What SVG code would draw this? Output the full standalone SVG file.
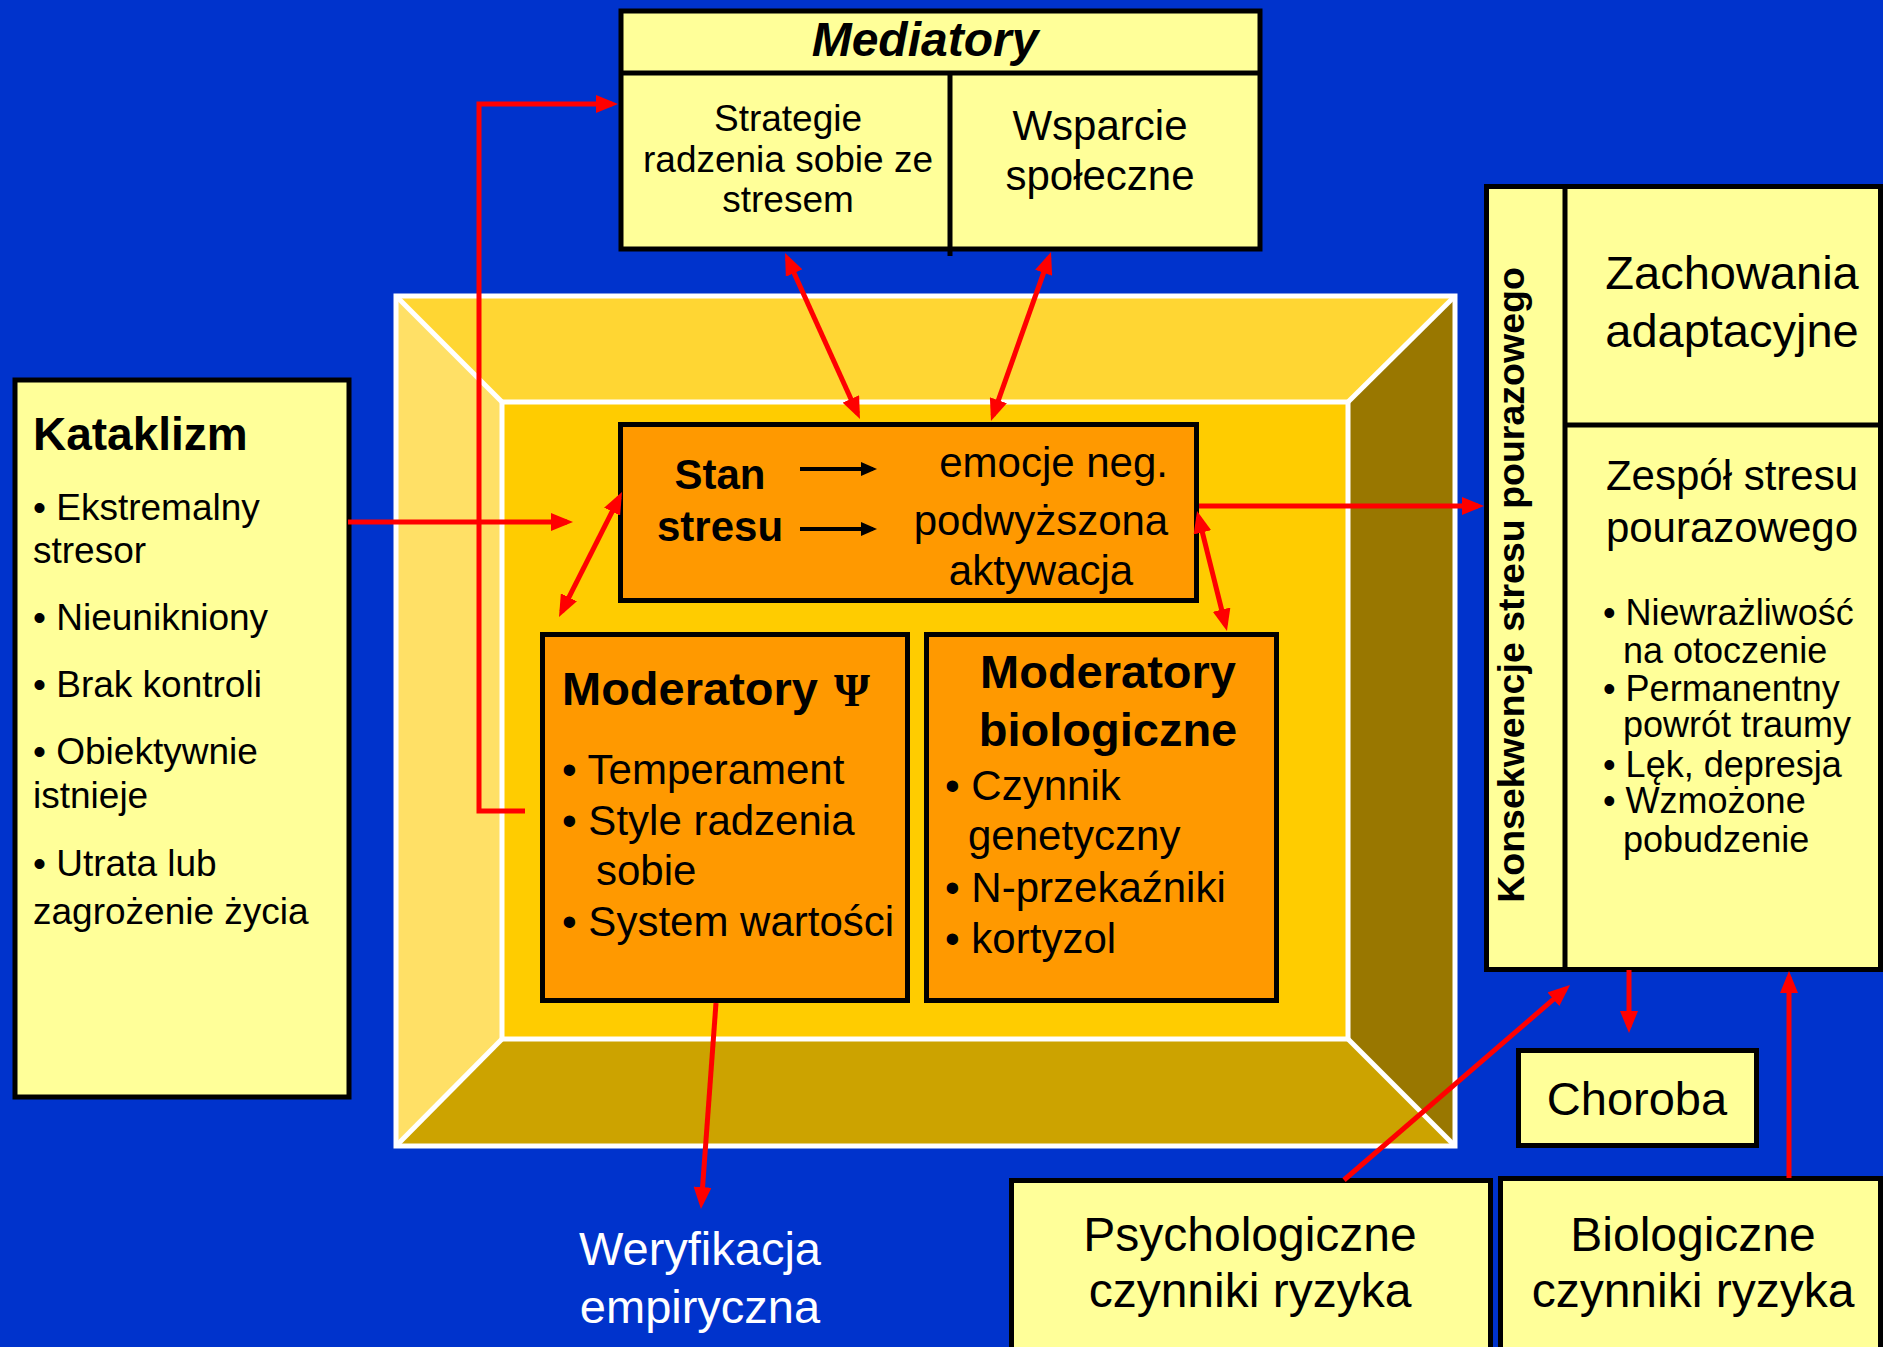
<svg xmlns="http://www.w3.org/2000/svg" width="1883" height="1347" viewBox="0 0 1883 1347">
<defs>
<style>
text{font-family:"Liberation Sans",Arial,sans-serif;fill:#000}
.box{fill:#FFFF99;stroke:#000;stroke-width:5}
.obox{fill:#FF9900;stroke:#000;stroke-width:5}
.div{stroke:#000;stroke-width:5;fill:none}
.wl{stroke:#fff;stroke-width:5;fill:none}
.red{stroke:#FF0000;stroke-width:5;fill:none}
.b{font-weight:bold}
.m{text-anchor:middle}
.f37{font-size:37px}
.f42{font-size:42px}
.f47{font-size:47px}
.f48{font-size:48px}
</style>
<marker id="ah" viewBox="0 0 22 18" refX="16" refY="9" markerWidth="22" markerHeight="18" markerUnits="userSpaceOnUse" orient="auto-start-reverse">
<path d="M0,0 L22,9 L0,18 z" fill="#FF0000"/>
</marker>
<marker id="bh" viewBox="0 0 16 14" refX="12" refY="7" markerWidth="16" markerHeight="14" markerUnits="userSpaceOnUse" orient="auto">
<path d="M0,0 L16,7 L0,14 z" fill="#000"/>
</marker>
</defs>
<rect width="1883" height="1347" fill="#0033CC"/>

<g id="frame">
<polygon points="396,296 1455,296 1348,402 502,402" fill="#FFD633"/>
<polygon points="396,296 502,402 502,1039 396,1146" fill="#FFE066"/>
<polygon points="1455,296 1455,1146 1348,1039 1348,402" fill="#997700"/>
<polygon points="396,1146 1455,1146 1348,1039 502,1039" fill="#CCA300"/>
<rect x="502" y="402" width="846" height="637" fill="#FFCC00"/>
<rect x="396" y="296" width="1059" height="850" class="wl" stroke-width="6"/>
<rect x="502" y="402" width="846" height="637" class="wl"/>
<line x1="396" y1="296" x2="502" y2="402" class="wl"/>
<line x1="1455" y1="296" x2="1348" y2="402" class="wl"/>
<line x1="396" y1="1146" x2="502" y2="1039" class="wl"/>
<line x1="1455" y1="1146" x2="1348" y2="1039" class="wl"/>
</g>

<g id="mediatory">
<rect x="621" y="11" width="639" height="238" class="box"/>
<line x1="621" y1="73" x2="1260" y2="73" class="div"/>
<line x1="950" y1="73" x2="950" y2="256" class="div"/>
<text x="925" y="56" class="m b" font-size="48" font-style="italic">Mediatory</text>
<text class="m" font-size="37"><tspan x="788" y="131">Strategie</tspan><tspan x="788" y="172">radzenia sobie ze</tspan><tspan x="788" y="212">stresem</tspan></text>
<text class="m f42"><tspan x="1100" y="140">Wsparcie</tspan><tspan x="1100" y="190">społeczne</tspan></text>
</g>

<g id="stan">
<rect x="620.5" y="424.5" width="576" height="176" class="obox"/>
<text class="m b f42"><tspan x="720" y="489">Stan</tspan><tspan x="720" y="541">stresu</tspan></text>
<line x1="800" y1="469" x2="873" y2="469" stroke="#000" stroke-width="4" marker-end="url(#bh)"/>
<line x1="800" y1="529" x2="873" y2="529" stroke="#000" stroke-width="4" marker-end="url(#bh)"/>
<text x="1168" y="477" class="f42" text-anchor="end">emocje neg.</text>
<text class="m f42"><tspan x="1041" y="535">podwyższona</tspan><tspan x="1041" y="585">aktywacja</tspan></text>
</g>

<g id="moderatory-psi">
<rect x="542.5" y="634.5" width="365" height="366" class="obox"/>
<text x="562" y="705" class="b f47">Moderatory</text>
<text x="834" y="706" font-size="46" font-weight="bold" style="font-family:'Liberation Serif','DejaVu Serif',serif">Ψ</text>
<text class="f42"><tspan x="562" y="784">• Temperament</tspan><tspan x="562" y="835">• Style radzenia</tspan><tspan x="596" y="885">sobie</tspan><tspan x="562" y="936">• System wartości</tspan></text>
</g>

<g id="moderatory-bio">
<rect x="926.5" y="634.5" width="350" height="366" class="obox"/>
<text class="m b f47"><tspan x="1108" y="688">Moderatory</tspan><tspan x="1108" y="746">biologiczne</tspan></text>
<text class="f42"><tspan x="945" y="800">• Czynnik</tspan><tspan x="968" y="850">genetyczny</tspan><tspan x="945" y="902">• N-przekaźniki</tspan><tspan x="945" y="953">• kortyzol</tspan></text>
</g>

<g id="kataklizm">
<rect x="15" y="380" width="334" height="717" class="box"/>
<text x="33" y="450" class="b" font-size="46">Kataklizm</text>
<text class="f37"><tspan x="33" y="520">• Ekstremalny</tspan><tspan x="33" y="563">stresor</tspan><tspan x="33" y="630">• Nieunikniony</tspan><tspan x="33" y="697">• Brak kontroli</tspan><tspan x="33" y="764">• Obiektywnie</tspan><tspan x="33" y="808">istnieje</tspan><tspan x="33" y="876">• Utrata lub</tspan><tspan x="33" y="924">zagrożenie życia</tspan></text>
</g>

<g id="konsekwencje">
<rect x="1486.5" y="186.5" width="394" height="783" class="box"/>
<line x1="1565" y1="186" x2="1565" y2="970" class="div"/>
<line x1="1565" y1="425" x2="1881" y2="425" class="div"/>
<text transform="translate(1524,585) rotate(-90)" x="0" y="0" class="m b" font-size="37.5">Konsekwencje stresu pourazowego</text>
<text class="m f47"><tspan x="1732" y="289">Zachowania</tspan><tspan x="1732" y="347">adaptacyjne</tspan></text>
<text class="m f42"><tspan x="1732" y="490">Zespół stresu</tspan><tspan x="1732" y="542">pourazowego</tspan></text>
<text font-size="36"><tspan x="1603" y="625">• Niewrażliwość</tspan><tspan x="1623" y="663">na otoczenie</tspan><tspan x="1603" y="701">• Permanentny</tspan><tspan x="1623" y="737">powrót traumy</tspan><tspan x="1603" y="777">• Lęk, depresja</tspan><tspan x="1603" y="813">• Wzmożone</tspan><tspan x="1623" y="852">pobudzenie</tspan></text>
</g>

<g id="choroba">
<rect x="1518.5" y="1050.5" width="238" height="95" class="box"/>
<text x="1637" y="1115" class="m f47">Choroba</text>
</g>

<g id="psych-ryzyko">
<rect x="1011.5" y="1180.5" width="479" height="200" class="box"/>
<text class="m f48"><tspan x="1250" y="1251">Psychologiczne</tspan><tspan x="1250" y="1307">czynniki ryzyka</tspan></text>
</g>

<g id="bio-ryzyko">
<rect x="1500.5" y="1178.5" width="380" height="200" class="box"/>
<text class="m f48"><tspan x="1693" y="1251">Biologiczne</tspan><tspan x="1693" y="1307">czynniki ryzyka</tspan></text>
</g>

<g id="weryfikacja">
<text class="m f47" style="fill:#fff"><tspan x="700" y="1265">Weryfikacja</tspan><tspan x="700" y="1323">empiryczna</tspan></text>
</g>

<g id="connectors">
<path d="M348,522 H567" class="red" marker-end="url(#ah)"/>
<path d="M525,811 H479 V104 H612" class="red" marker-end="url(#ah)"/>
<path d="M787.5,258.5 L857.5,413.5" class="red" marker-start="url(#ah)" marker-end="url(#ah)"/>
<path d="M1049,257.7 L993,415.3" class="red" marker-start="url(#ah)" marker-end="url(#ah)"/>
<path d="M619.3,497.4 L561.7,611.6" class="red" marker-start="url(#ah)" marker-end="url(#ah)"/>
<path d="M1198.5,516.8 L1225.5,625.2" class="red" marker-start="url(#ah)" marker-end="url(#ah)"/>
<path d="M1199,506 H1478" class="red" marker-end="url(#ah)"/>
<path d="M716,1003 L701.4,1203" class="red" marker-end="url(#ah)"/>
<path d="M1344,1180 L1565.5,988.9" class="red" marker-end="url(#ah)"/>
<path d="M1629,970 V1027" class="red" marker-end="url(#ah)"/>
<path d="M1789,1178 V977" class="red" marker-end="url(#ah)"/>
</g>
</svg>
